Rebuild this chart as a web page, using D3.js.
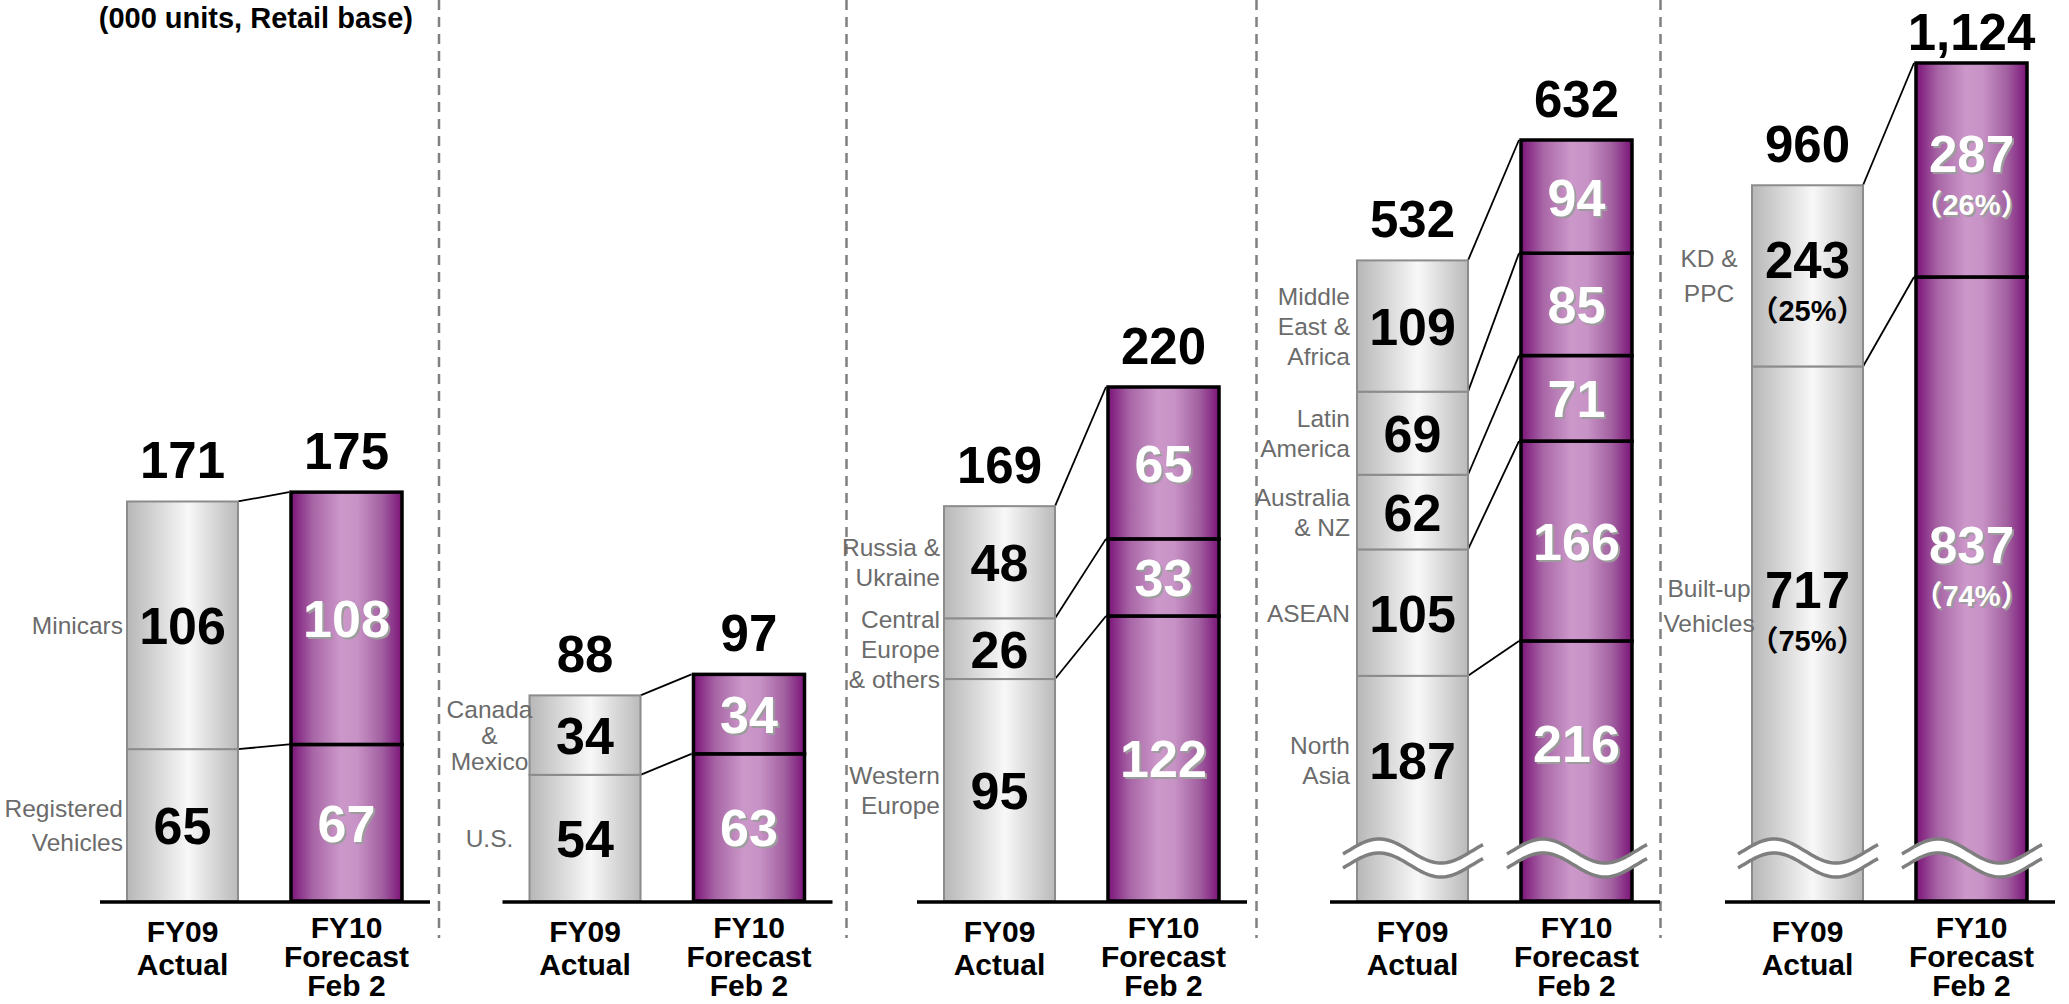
<!DOCTYPE html>
<html>
<head>
<meta charset="utf-8">
<script src="https://cdn.jsdelivr.net/npm/d3@7"></script>
<style>
  body { margin: 0; background: #fff; }
  svg { display: block; font-family: "Liberation Sans", Arial, sans-serif; }
</style>
</head>
<body>
<div id="chart"></div>
<script>
// Define SVG area dimensions
var svgWidth = 2069;
var svgHeight = 1004;

// Two bars in every panel
var categories = ["FY09 Actual", "FY10 Forecast Feb 2"];
var categoryLines = [["FY09", "Actual"], ["FY10", "Forecast", "Feb 2"]];

// Japan
var japanSegments = [["Registered", "Vehicles"], ["Minicars"]];
var japanFY09 = [65, 106];
var japanFY10 = [67, 108];
var japanTotals = [171, 175];

// North America
var northAmericaSegments = [["U.S."], ["Canada", "&", "Mexico"]];
var northAmericaFY09 = [54, 34];
var northAmericaFY10 = [63, 34];
var northAmericaTotals = [88, 97];

// Europe
var europeSegments = [["Western", "Europe"], ["Central", "Europe", "& others"], ["Russia &", "Ukraine"]];
var europeFY09 = [95, 26, 48];
var europeFY10 = [122, 33, 65];
var europeTotals = [169, 220];

// Asia & others
var asiaSegments = [["North", "Asia"], ["ASEAN"], ["Australia", "& NZ"], ["Latin", "America"], ["Middle", "East &", "Africa"]];
var asiaFY09 = [187, 105, 62, 69, 109];
var asiaFY10 = [216, 166, 71, 85, 94];
var asiaTotals = [532, 632];

// Global total
var globalSegments = [["Built-up", "Vehicles"], ["KD &", "PPC"]];
var globalFY09 = [717, 243];
var globalFY10 = [837, 287];
var globalShares = [[75, 25], [74, 26]];
var globalTotals = [960, 1124];

var baseY = 901;
var breakY = 851;

// Each panel gets its own vertical scale (the last two have a broken axis)
var smallScale = d3.scaleLinear().domain([0, 220]).range([baseY, 387]);
var asiaScale = d3.scaleLinear().domain([0, 632]).range([baseY, 140]);
var globalScale = d3.scaleLinear().domain([0, 1124]).range([baseY, 63]);

var panels = [
  { segments: japanSegments, values: [japanFY09, japanFY10], totals: japanTotals,
    left: 127, y: smallScale, labelAnchor: "end", labelDx: -4, labelLh: 34 },
  { segments: northAmericaSegments, values: [northAmericaFY09, northAmericaFY10], totals: northAmericaTotals,
    left: 529.5, y: smallScale, labelAnchor: "middle", labelDx: -40, labelLh: 26 },
  { segments: europeSegments, values: [europeFY09, europeFY10], totals: europeTotals,
    left: 944, y: smallScale, labelAnchor: "end", labelDx: -4, labelLh: 30 },
  { segments: asiaSegments, values: [asiaFY09, asiaFY10], totals: asiaTotals,
    left: 1357, y: asiaScale, labelAnchor: "end", labelDx: -7, labelLh: 30, broken: true },
  { segments: globalSegments, values: [globalFY09, globalFY10], totals: globalTotals, shares: globalShares,
    left: 1752, y: globalScale, labelAnchor: "middle", labelDx: -43, labelLh: 35, broken: true }
];

var separators = [439, 846.5, 1256.5, 1660.5];

var svg = d3.select("#chart")
  .append("svg")
  .attr("width", svgWidth)
  .attr("height", svgHeight);

// Gradients for the two bar styles
var defs = svg.append("defs");
var grayGrad = defs.append("linearGradient").attr("id", "gradGray");
[[0, "#b7b7b7"], [0.55, "#f8f8f8"], [1, "#bababa"]].forEach(function(s) {
  grayGrad.append("stop").attr("offset", s[0]).attr("stop-color", s[1]);
});
var purpleGrad = defs.append("linearGradient").attr("id", "gradPurple");
[[0, "#7b1479"], [0.2, "#a866a6"], [0.45, "#cc98ca"], [0.6, "#c792c5"], [0.82, "#a260a0"], [1, "#7b1479"]].forEach(function(s) {
  purpleGrad.append("stop").attr("offset", s[0]).attr("stop-color", s[1]);
});

// Unit note
svg.append("text")
  .attr("x", 413)
  .attr("y", 28)
  .attr("text-anchor", "end")
  .attr("font-size", 29)
  .attr("font-weight", "bold")
  .text("(000 units, Retail base)");

// Dashed separators between panels
svg.selectAll(".sep")
  .data(separators)
  .enter()
  .append("line")
  .attr("x1", d => d)
  .attr("x2", d => d)
  .attr("y1", 0)
  .attr("y2", 938)
  .attr("stroke", "#808080")
  .attr("stroke-width", 2.5)
  .attr("stroke-dasharray", "10,7");

// Sine shaped break mark
function wavePoints(x0, x1, yc) {
  var mid = (x0 + x1) / 2;
  var peak = mid - 34;
  var pts = [];
  for (var x = x0; x <= x1 + 0.1; x += 2) {
    pts.push([x, yc - 12 * Math.cos(2 * Math.PI * (x - peak) / 124)]);
  }
  return pts;
}

function drawBreak(g, x0, x1) {
  var top = wavePoints(x0, x1, breakY);
  var bottom = wavePoints(x0, x1, breakY + 14);
  var line = d3.line();
  g.append("path")
    .attr("d", line(top.concat(bottom.slice().reverse())) + "Z")
    .attr("fill", "#fff");
  [top, bottom].forEach(function(p) {
    g.append("path")
      .attr("d", line(p))
      .attr("fill", "none")
      .attr("stroke", "#7f7f7f")
      .attr("stroke-width", 3.5);
  });
}

function addText(g, x, y, text, size, color, shadow) {
  if (shadow) {
    g.append("text")
      .attr("x", x + 2)
      .attr("y", y + 2)
      .attr("text-anchor", "middle")
      .attr("font-size", size)
      .attr("font-weight", "bold")
      .attr("fill", "#9c9c9c")
      .text(text);
  }
  g.append("text")
    .attr("x", x)
    .attr("y", y)
    .attr("text-anchor", "middle")
    .attr("font-size", size)
    .attr("font-weight", "bold")
    .attr("fill", color)
    .text(text);
}

// Share line with full-width brackets
function addShare(g, x, y, share, color, shadow) {
  var draw = function(dx, fill) {
    var t = g.append("text")
      .attr("x", x + dx)
      .attr("y", y + dx)
      .attr("text-anchor", "middle")
      .attr("font-size", 29)
      .attr("font-weight", "bold")
      .attr("fill", fill);
    t.append("tspan").attr("font-family", "Noto Sans CJK JP").text("（");
    t.append("tspan").text(share + "%");
    t.append("tspan").attr("font-family", "Noto Sans CJK JP").text("）");
  };
  if (shadow) draw(2, "#9c9c9c");
  draw(0, color);
}

panels.forEach(function(p) {
  var g = svg.append("g").attr("transform", `translate(${p.left}, 0)`);
  var yScale = p.y;

  var xScale = d3.scaleBand()
    .domain(categories)
    .range([0, 275])
    .paddingInner(0.323);
  var bw = xScale.bandwidth();

  // Stack the segments of each bar
  var keys = p.segments.map((s, j) => "s" + j);
  var rows = categories.map(function(c, i) {
    var r = { category: c };
    p.values[i].forEach(function(v, j) { r["s" + j] = v; });
    return r;
  });
  var series = d3.stack().keys(keys)(rows);

  // Connectors between bar boundaries
  series.forEach(function(s) {
    g.append("line")
      .attr("x1", xScale(categories[0]) + bw)
      .attr("y1", yScale(s[0][1]))
      .attr("x2", xScale(categories[1]) - 2)
      .attr("y2", yScale(s[1][1]))
      .attr("stroke", "#000")
      .attr("stroke-width", 1.8);
  });

  // Segments
  categories.forEach(function(c, i) {
    var forecast = i === 1;
    series.forEach(function(s) {
      g.append("rect")
        .attr("x", xScale(c))
        .attr("y", yScale(s[i][1]))
        .attr("width", bw)
        .attr("height", yScale(s[i][0]) - yScale(s[i][1]))
        .attr("fill", forecast ? "url(#gradPurple)" : "url(#gradGray)")
        .attr("stroke", forecast ? "#000" : "#8c8c8c")
        .attr("stroke-width", forecast ? 3.5 : 2);
    });
  });

  if (p.broken) {
    categories.forEach(function(c) {
      drawBreak(g, xScale(c) - 14, xScale(c) + bw + 15);
    });
  }

  // Values inside the segments
  categories.forEach(function(c, i) {
    var forecast = i === 1;
    var cx = xScale(c) + bw / 2;
    series.forEach(function(s, j) {
      var top = yScale(s[i][1]);
      var bottom = yScale(s[i][0]);
      if (p.broken) bottom = Math.min(bottom, breakY - 6);
      var mid = (top + bottom) / 2;
      var color = forecast ? "#fff" : "#000";
      if (p.shares) {
        addText(g, cx, mid + 2, p.values[i][j], 51, color, forecast);
        addShare(g, cx, mid + 45, p.shares[i][j], color, forecast);
      } else {
        addText(g, cx, mid + 19, p.values[i][j], 52, color, forecast);
      }
    });

    // Total on top
    addText(g, cx, Math.max(yScale(p.totals[i]) - 23, 50), d3.format(",")(p.totals[i]), 51, "#000", false);
  });

  // Segment names beside the actual bar
  series.forEach(function(s, j) {
    var top = yScale(s[0][1]);
    var bottom = yScale(s[0][0]);
    if (p.broken) bottom = Math.min(bottom, breakY - 6);
    var mid = (top + bottom) / 2;
    var lines = p.segments[j];
    var t = g.append("text")
      .attr("text-anchor", p.labelAnchor)
      .attr("font-size", 24.5)
      .attr("fill", "#6b6b6b");
    lines.forEach(function(l, k) {
      t.append("tspan")
        .attr("x", xScale(categories[0]) + p.labelDx)
        .attr("y", mid + 9 + (k - (lines.length - 1) / 2) * p.labelLh)
        .text(l);
    });
  });

  // Baseline
  g.append("line")
    .attr("x1", -27)
    .attr("x2", 275 + 28)
    .attr("y1", baseY + 1)
    .attr("y2", baseY + 1)
    .attr("stroke", "#000")
    .attr("stroke-width", 3.5);

  // Category labels
  categories.forEach(function(c, i) {
    var lines = categoryLines[i];
    var lh = lines.length === 2 ? 33 : 29;
    var t = g.append("text")
      .attr("text-anchor", "middle")
      .attr("font-size", 30)
      .attr("font-weight", "bold");
    lines.forEach(function(l, k) {
      t.append("tspan")
        .attr("x", xScale(c) + bw / 2)
        .attr("y", (lines.length === 2 ? 942 : 938) + k * lh)
        .text(l);
    });
  });
});
</script>
</body>
</html>
